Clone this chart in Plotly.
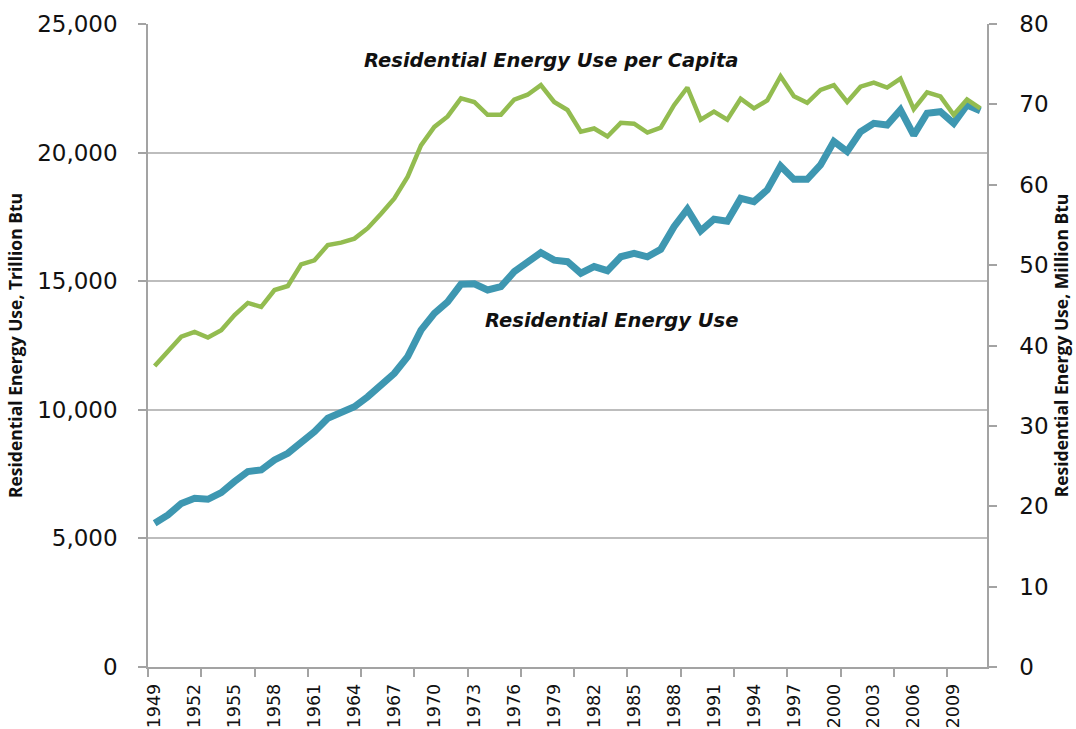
import plotly.graph_objects as go

years = list(range(1949, 2012))

# Residential energy use, trillion Btu (left axis)
energy_use = [
    5590, 5910, 6360, 6560, 6520, 6780, 7210, 7600, 7660, 8050,
    8310, 8700, 9150, 9670, 9860, 10120, 10510, 10960, 11420, 12070,
    13100, 13750, 14200, 14880, 14900, 14660, 14790, 15370, 15700, 16110,
    15820, 15760, 15310, 15570, 15410, 15950, 16080, 15950, 16240, 17120,
    17800, 16960, 17410, 17330, 18220, 18090, 18550, 19480, 18960, 18960,
    19520, 20430, 20040, 20810, 21140, 21070, 21660, 20680, 21530, 21590,
    21140, 21850, 21630,
]

# Residential energy use per capita, million Btu (right axis)
per_capita = [
    37.45, 39.2, 41.1, 41.7, 41.0, 41.9, 43.8, 45.3, 44.8, 46.9,
    47.4, 50.1, 50.6, 52.5, 52.8, 53.3, 54.6, 56.4, 58.3, 61.0,
    64.9, 67.2, 68.5, 70.75, 70.3, 68.7, 68.7, 70.6, 71.2, 72.4,
    70.3, 69.3, 66.6, 67.0, 66.0, 67.7, 67.6, 66.5, 67.1, 69.9,
    72.1, 68.1, 69.1, 68.1, 70.7, 69.5, 70.5, 73.5, 71.0, 70.2,
    71.8, 72.4, 70.3, 72.2, 72.7, 72.1, 73.2, 69.4, 71.5, 71.0,
    68.7, 70.6, 69.5,
]

label_years = years[::3]
tick_label_text = [str(y) for y in label_years]
boundary_ticks = [y - 0.5 for y in years[::4]]

BLUE = "#3E97B1"
GREEN = "#93BC50"
GRID = "#BDBDBD"
AXIS = "#A3A3A3"
TICKFONT = dict(family="DejaVu Sans", size=23, color="#111111")
TITLEFONT = dict(family="Open Sans", size=17.5, color="#111111", weight="bold")
ANNFONT = dict(family="DejaVu Sans", size=19.5, color="#111111")

fig = go.Figure()
fig.add_trace(go.Scatter(
    x=years, y=energy_use, mode="lines", name="Residential Energy Use",
    line=dict(color=BLUE, width=7), yaxis="y",
))
fig.add_trace(go.Scatter(
    x=years, y=per_capita, mode="lines", name="Residential Energy Use per Capita",
    line=dict(color=GREEN, width=4.5), yaxis="y2",
))

fig.add_annotation(
    x=1978.75, y=23600, xref="x", yref="y",
    text="<b><i>Residential Energy Use per Capita</i></b>",
    showarrow=False, font=ANNFONT,
)
fig.add_annotation(
    x=1983.3, y=13490, xref="x", yref="y",
    text="<b><i>Residential Energy Use</i></b>",
    showarrow=False, font=ANNFONT,
)

fig.update_layout(
    width=1076, height=729,
    margin=dict(l=148, r=89, t=24, b=62),
    paper_bgcolor="white", plot_bgcolor="white",
    showlegend=False,
    xaxis=dict(
        range=[1948.5, 2011.5], automargin=False,
        tickmode="array", tickvals=label_years, ticktext=tick_label_text,
        tickangle=-90, ticks="", ticklabelstandoff=8,
        tickfont=dict(family="DejaVu Sans", size=17.5, color="#111111"),
        showgrid=False, zeroline=False,
        showline=True, linecolor=AXIS, linewidth=1.5,
        minor=dict(tickmode="array", tickvals=boundary_ticks, ticks="outside",
                   ticklen=8, tickcolor=AXIS, tickwidth=1.5, showgrid=False),
    ),
    yaxis=dict(
        range=[0, 25000], tickmode="linear", tick0=0, dtick=5000, automargin=False,
        tickformat=",", tickfont=TICKFONT,
        ticks="outside", ticklen=8, tickcolor=AXIS, tickwidth=1.5,
        ticklabelstandoff=16,
        showgrid=True, gridcolor=GRID, gridwidth=1.5,
        zeroline=False, showline=True, linecolor=AXIS, linewidth=1.5,
        title=dict(text="Residential Energy Use, Trillion Btu", font=TITLEFONT, standoff=10),
    ),
    yaxis2=dict(
        range=[0, 80], tickmode="linear", tick0=0, dtick=10, automargin=False,
        overlaying="y", side="right", tickfont=TICKFONT,
        ticks="outside", ticklen=8, tickcolor=AXIS, tickwidth=1.5,
        ticklabelstandoff=18,
        showgrid=False, zeroline=False, showline=True, linecolor=AXIS, linewidth=1.5,
        title=dict(text="Residential Energy Use, Million Btu", font=TITLEFONT, standoff=8),
    ),
)

fig.write_html(
    "out.html",
    config={"displayModeBar": False},
    post_script="document.body.style.margin='0';document.body.style.padding='0';",
)
